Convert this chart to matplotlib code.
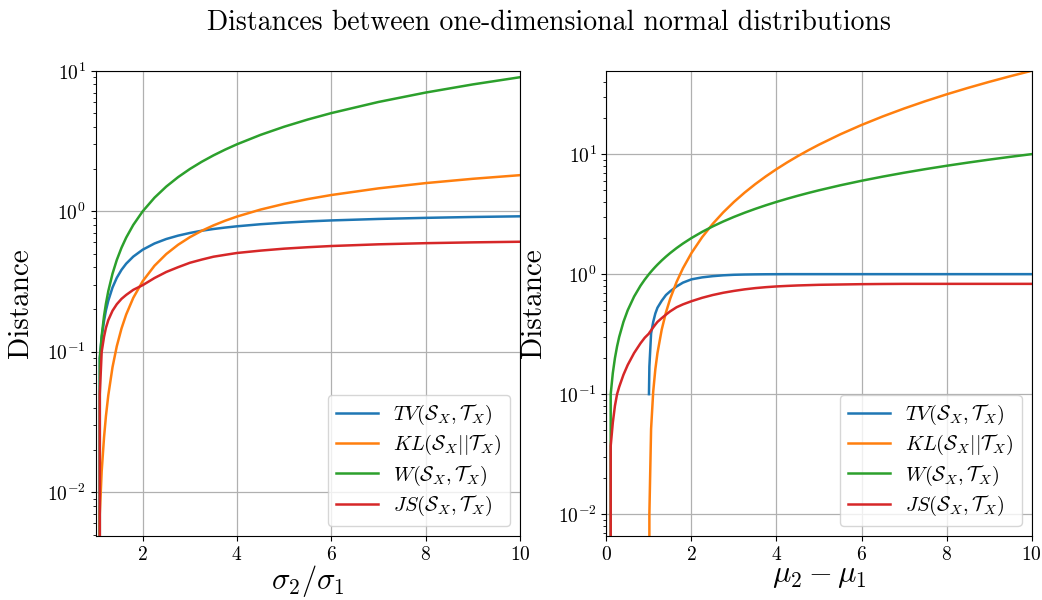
import numpy as np
import matplotlib
matplotlib.use("Agg")
import matplotlib.pyplot as plt

plt.rcParams['font.family'] = 'serif'
plt.rcParams['font.serif'] = ['cmr10']
plt.rcParams['mathtext.fontset'] = 'cm'
plt.rcParams['axes.formatter.use_mathtext'] = True
plt.rcParams['axes.unicode_minus'] = False

# ---- left panel: ratio of standard deviations ----
ratio = [1.0, 1.09, 1.13, 1.18, 1.22, 1.27, 1.36, 1.45, 1.55, 1.65, 1.8, 2.0, 2.25, 2.5,
         2.75, 3.0, 3.25, 3.5, 3.75, 4.0, 4.5, 5.0, 5.5, 6.0, 7.0, 8.0, 9.0, 10.0]
tv_sigma = [0, 0.090, 0.126, 0.166, 0.197, 0.231, 0.287, 0.336, 0.383, 0.424, 0.476,
            0.533, 0.590, 0.635, 0.671, 0.701, 0.727, 0.748, 0.766, 0.782, 0.809, 0.830,
            0.847, 0.861, 0.882, 0.898, 0.911, 0.921]
kl_sigma = [0, 0.0070, 0.0141, 0.0246, 0.0348, 0.0490, 0.0778, 0.1094, 0.1464, 0.1844,
            0.2421, 0.3181, 0.4097, 0.4963, 0.5777, 0.6542, 0.7260, 0.7936, 0.8573,
            0.9175, 1.0288, 1.1294, 1.2213, 1.3057, 1.4561, 1.5872, 1.7034, 1.8076]
w_sigma = [0, 0.09, 0.13, 0.18, 0.22, 0.27, 0.36, 0.45, 0.55, 0.65, 0.8, 1.0, 1.25, 1.5,
           1.75, 2.0, 2.25, 2.5, 2.75, 3.0, 3.5, 4.0, 4.5, 5.0, 6.0, 7.0, 8.0, 9.0]
js_sigma = [0, 0.05, 0.10, 0.128, 0.148, 0.168, 0.196, 0.218, 0.238, 0.254, 0.276, 0.298,
            0.335, 0.37, 0.40, 0.43, 0.453, 0.475, 0.49, 0.505, 0.525, 0.542, 0.555,
            0.566, 0.582, 0.593, 0.601, 0.607]

# ---- right panel: difference of means ----
nan = float('nan')
diff = [0.0, 0.1, 0.15, 0.2, 0.25, 0.3, 0.4, 0.5, 0.65, 0.8, 0.9, 1.0, 1.01, 1.05, 1.1,
        1.15, 1.2, 1.3, 1.4, 1.5, 1.65, 1.8, 2.0, 2.25, 2.5, 2.75, 3.0, 3.25, 3.5, 3.75,
        4.0, 4.25, 4.5, 4.75, 5.0, 5.5, 6.0, 6.5, 7.0, 7.5, 8.0, 8.5, 9.0, 9.5, 10.0]
tv_mu = [nan] * 11 + [0.1, 0.17, 0.32, 0.40, 0.47, 0.525, 0.60, 0.67, 0.72, 0.79, 0.85,
                      0.905, 0.94, 0.962, 0.978, 0.988, 0.993, 0.996, 0.998, 0.999] + [1.0] * 14
kl_mu = [0] * 12 + [0.01005, 0.05125, 0.105, 0.16125, 0.22, 0.345, 0.48, 0.625, 0.86125,
                    1.12, 1.5, 2.03125, 2.625, 3.28125, 4.0, 4.78125, 5.625, 6.53125,
                    7.5, 8.53125, 9.625, 10.78125, 12.0, 14.625, 17.5, 20.625, 24.0,
                    27.625, 31.5, 35.625, 40.0, 44.625, 49.5]
w_mu = [0.0, 0.1, 0.15, 0.2, 0.25, 0.3, 0.4, 0.5, 0.65, 0.8, 0.9, 1.0, 1.01, 1.05, 1.1,
        1.15, 1.2, 1.3, 1.4, 1.5, 1.65, 1.8, 2.0, 2.25, 2.5, 2.75, 3.0, 3.25, 3.5, 3.75,
        4.0, 4.25, 4.5, 4.75, 5.0, 5.5, 6.0, 6.5, 7.0, 7.5, 8.0, 8.5, 9.0, 9.5, 10.0]
js_mu = [0, 0.037, 0.058, 0.08, 0.1, 0.115, 0.145, 0.175, 0.22, 0.265, 0.295, 0.32,
         0.325, 0.34, 0.36, 0.38, 0.40, 0.43, 0.46, 0.49, 0.53, 0.56, 0.595, 0.635, 0.67,
         0.70, 0.725, 0.747, 0.765, 0.779, 0.79, 0.798, 0.805, 0.81, 0.815, 0.82, 0.825,
         0.828, 0.83, 0.83, 0.83, 0.83, 0.83, 0.83, 0.83]

labels = [r'$TV(\mathcal{S}_X, \mathcal{T}_X)$',
          r'$KL(\mathcal{S}_X || \mathcal{T}_X)$',
          r'$W(\mathcal{S}_X, \mathcal{T}_X)$',
          r'$JS(\mathcal{S}_X, \mathcal{T}_X)$']
colors = ['#1f77b4', '#ff7f0e', '#2ca02c', '#d62728']

fig = plt.figure(figsize=(10.42, 6.0), dpi=100)
ax1 = fig.add_axes([0.0917, 0.107, 0.4073, 0.775])
ax2 = fig.add_axes([0.582, 0.107, 0.408, 0.775])

for ax, x, series in [(ax1, ratio, [tv_sigma, kl_sigma, w_sigma, js_sigma]),
                      (ax2, diff, [tv_mu, kl_mu, w_mu, js_mu])]:
    for y, lab, c in zip(series, labels, colors):
        ax.plot(x, y, color=c, lw=1.8, label=lab)
    ax.set_yscale('log')
    ax.grid(True, which='major', color='#b0b0b0', lw=0.9)
    ax.set_ylabel('Distance', fontsize=21)
    ax.tick_params(labelsize=14)
    ax.legend(loc='lower right', fontsize=14.5, labelspacing=0.3, handlelength=2.1,
              handletextpad=0.75)

ax1.set_xlim(1, 10)
ax1.set_ylim(0.0049, 10)
ax1.set_xticks([2, 4, 6, 8, 10])
ax1.set_xlabel(r'$\sigma_2/\sigma_1$', fontsize=22)
ax1.yaxis.set_label_coords(-0.145, 0.5)
ax1.xaxis.set_label_coords(0.5, -0.058)

ax2.set_xlim(0, 10)
ax2.set_ylim(0.0066, 49.5)
ax2.set_xticks([0, 2, 4, 6, 8, 10])
ax2.set_xlabel(r'$\mu_2 - \mu_1$', fontsize=22)
ax2.yaxis.set_label_coords(-0.14, 0.5)
ax2.xaxis.set_label_coords(0.5, -0.058)

fig.text(0.527, 0.962, 'Distances between one-dimensional normal distributions',
         ha='center', va='center', fontsize=20)

fig.savefig('out.png', dpi=100)
